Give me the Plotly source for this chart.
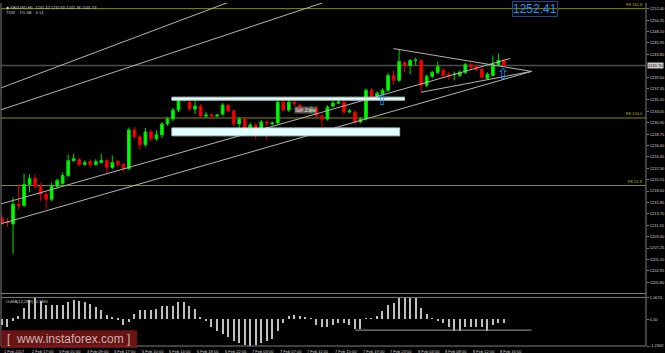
import plotly.graph_objects as go

# ---------------- data ----------------
bars = list(range(92))
open_ = [1212.90, 1212.20, 1211.78, 1215.50, 1215.30, 1219.26, 1220.38, 1218.89, 1217.39, 1216.45,
         1218.89, 1219.45, 1220.94, 1223.75, 1223.93, 1223.00, 1223.56, 1223.00, 1223.37, 1223.75,
         1222.44, 1223.56, 1223.00, 1222.25, 1229.54, 1228.24, 1226.74, 1229.17, 1227.86, 1228.61,
         1230.67, 1231.60, 1233.28, 1235.15, 1234.78, 1233.47, 1234.03, 1232.16, 1232.35, 1232.16,
         1232.54, 1234.22, 1233.10, 1230.67, 1231.60, 1229.17, 1230.48, 1229.36, 1231.04, 1230.67,
         1230.85, 1234.78, 1233.28, 1234.78, 1234.22, 1233.30, 1232.91, 1233.66, 1232.16, 1231.60,
         1234.03, 1234.59, 1234.78, 1232.91, 1232.91, 1231.04, 1231.60, 1237.02, 1235.90, 1236.28,
         1237.02, 1239.83, 1238.89, 1242.26, 1241.70, 1242.63, 1242.63, 1237.96, 1239.64, 1240.39,
         1240.76, 1240.02, 1240.02, 1239.83, 1240.39, 1241.89, 1241.51, 1240.95, 1239.27, 1239.83,
         1241.89, 1242.63]
high = [1213.46, 1212.90, 1216.83, 1219.26, 1221.32, 1221.20, 1221.10, 1219.60, 1217.80, 1219.60,
        1220.40, 1221.50, 1224.87, 1225.06, 1224.30, 1223.80, 1223.90, 1224.00, 1225.06, 1224.10,
        1224.70, 1223.90, 1223.30, 1230.00, 1230.10, 1228.60, 1229.90, 1229.70, 1229.50, 1231.00,
        1232.00, 1233.70, 1235.50, 1235.80, 1235.20, 1235.72, 1234.40, 1232.90, 1232.70, 1232.60,
        1234.60, 1234.50, 1233.40, 1232.00, 1231.90, 1230.90, 1230.80, 1231.40, 1231.30, 1231.10,
        1235.10, 1235.20, 1235.20, 1235.72, 1234.50, 1233.70, 1234.00, 1234.00, 1232.50, 1234.20,
        1235.00, 1235.34, 1235.10, 1233.50, 1233.20, 1231.90, 1237.40, 1237.40, 1236.80, 1237.40,
        1240.20, 1240.80, 1244.69, 1242.50, 1242.90, 1243.20, 1242.90, 1240.00, 1240.70, 1242.45,
        1241.20, 1240.50, 1240.58, 1240.80, 1242.20, 1242.20, 1241.80, 1241.20, 1240.40, 1243.57,
        1243.94, 1243.00]
low = [1211.59, 1211.20, 1206.17, 1214.58, 1215.00, 1217.76, 1218.50, 1216.08, 1214.58, 1216.10,
       1218.50, 1219.20, 1220.60, 1223.50, 1222.70, 1222.80, 1222.40, 1222.80, 1223.20, 1221.30,
       1222.20, 1222.60, 1221.70, 1222.00, 1227.90, 1225.80, 1226.40, 1227.30, 1227.50, 1228.00,
       1230.30, 1231.20, 1232.90, 1234.90, 1233.20, 1232.54, 1231.90, 1231.80, 1231.60, 1231.90,
       1232.20, 1232.80, 1230.30, 1228.80, 1228.90, 1228.90, 1227.86, 1229.00, 1227.67, 1230.40,
       1230.50, 1233.00, 1232.90, 1234.10, 1232.60, 1232.80, 1232.60, 1231.90, 1230.11, 1231.30,
       1233.80, 1234.40, 1232.60, 1232.70, 1230.70, 1230.80, 1231.30, 1235.40, 1235.60, 1236.00,
       1236.70, 1237.96, 1238.60, 1240.39, 1240.02, 1241.70, 1236.65, 1237.60, 1239.30, 1240.10,
       1239.50, 1239.00, 1238.89, 1239.50, 1240.10, 1241.00, 1240.60, 1239.20, 1239.00, 1239.60,
       1241.60, 1241.40]
close = [1211.97, 1212.10, 1215.52, 1215.20, 1219.26, 1220.38, 1218.89, 1217.39, 1216.45, 1219.07,
         1220.01, 1220.94, 1223.75, 1224.12, 1223.00, 1223.37, 1223.00, 1223.56, 1223.75, 1222.44,
         1223.37, 1223.00, 1222.25, 1229.54, 1228.24, 1226.74, 1229.17, 1227.86, 1228.61, 1230.67,
         1231.60, 1233.28, 1235.15, 1235.34, 1233.47, 1234.03, 1232.16, 1232.35, 1232.16, 1232.35,
         1234.22, 1233.10, 1230.67, 1231.60, 1229.17, 1230.48, 1229.36, 1231.04, 1230.85, 1230.85,
         1234.78, 1233.28, 1234.78, 1234.41, 1232.91, 1233.20, 1233.66, 1232.16, 1231.60, 1233.85,
         1234.59, 1234.78, 1232.91, 1233.10, 1231.04, 1231.60, 1237.02, 1235.72, 1236.46, 1237.02,
         1239.83, 1238.89, 1242.45, 1241.70, 1242.63, 1242.70, 1237.96, 1239.64, 1240.39, 1241.51,
         1239.83, 1239.83, 1240.05, 1240.39, 1241.89, 1241.32, 1240.95, 1239.46, 1240.02, 1241.89,
         1242.63, 1241.70]
osma = [-0.30, -0.39, -0.09, 0.13, 0.51, 0.86, 0.95, 0.83, 0.66, 0.66,
        0.66, 0.64, 0.79, 0.88, 0.83, 0.79, 0.69, 0.54, 0.39, 0.18,
        0.06, -0.05, -0.30, -0.15, 0.22, 0.42, 0.39, 0.42, 0.44, 0.57,
        0.61, 0.61, 0.76, 0.79, 0.61, 0.44, 0.10, -0.10, -0.39, -0.57,
        -0.71, -0.84, -1.02, -1.11, -1.20, -1.2309, -1.20, -1.11, -1.02, -0.93,
        -0.57, -0.21, 0.11, 0.19, 0.14, 0.06, 0.03, -0.30, -0.39, -0.36,
        -0.30, -0.18, -0.21, -0.30, -0.48, -0.48, 0.02, 0.03, 0.14, 0.34,
        0.65, 0.73, 0.97, 0.99, 1.0074, 0.96, 0.50, 0.23, 0.03, -0.12,
        -0.21, -0.39, -0.54, -0.54, -0.36, -0.36, -0.39, -0.39, -0.54, -0.30,
        -0.21, -0.18]

price_ticks = [1252.40, 1250.25, 1248.10, 1245.95, 1243.80, 1239.50, 1237.35, 1235.20,
               1233.05, 1230.90, 1228.75, 1226.60, 1224.45, 1222.30, 1220.15, 1218.00, 1215.85,
               1213.70, 1211.55, 1209.40, 1207.25, 1205.10, 1202.95, 1200.80, 1198.65]
price_tick_text = ["1252.40", "1250.25", "1248.10", "1245.95", "1243.80", "1239.50", "1237.35",
                   "1235.20", "1233.05", "1230.90", "1228.75", "1226.60", "1224.45", "1222.30",
                   "1220.15", "1218.00", "1215.85", "1213.70", "1211.55", "1209.40", "1207.25",
                   "1205.10", "1202.95", "1200.80", "1198.65"]
osma_ticks = [1.0074, 0.0, -1.2309]
osma_tick_text = ["1.0074", "0.00", "-1.2309"]

date_tick_bars = [0, 5, 10, 15, 20, 25, 30, 35, 40, 45, 50, 55, 60, 65, 70, 75, 80, 85, 90]
date_tick_labels = ["1 Feb 2017", "2 Feb 17:00", "3 Feb 01:00", "3 Feb 09:00", "3 Feb 17:00",
                    "6 Feb 10:00", "6 Feb 14:00", "6 Feb 18:00", "6 Feb 22:00", "7 Feb 03:00",
                    "7 Feb 07:00", "7 Feb 11:00", "7 Feb 15:00", "7 Feb 19:00", "7 Feb 23:00",
                    "8 Feb 04:00", "8 Feb 08:00", "8 Feb 12:00", "8 Feb 16:00"]

fe_levels = [1252.41, 1231.79, 1219.05]
fe_labels = ["FE 161.8", "FE 100.0", "FE 61.8"]
current_price = 1241.70

# analyst drawings (bar index, price)
trend_x0 = [-0.36, -0.36, 71.0, 76.0, -0.36, -0.36]
trend_y0 = [1215.52, 1211.78, 1244.88, 1236.65, 1237.40, 1233.28]
trend_x1 = [92.1, 96.0, 96.0, 96.0, 60.0, 70.0]
trend_y1 = [1243.01, 1240.58, 1240.58, 1240.58, 1261.03, 1257.62]

zone_x0 = [30.8, 30.8]
zone_x1 = [73.0, 72.1]
zone_y0 = [1235.15, 1228.42]
zone_y1 = [1235.72, 1229.92]

arrow_x = [69.0, 91.0]
arrow_y = [1235.10, 1240.10]

osma_level = -0.50
osma_level_x = [64, 96]

# ---------------- figure ----------------
fig = go.Figure()

fig.add_trace(go.Candlestick(
    x=bars, open=open_, high=high, low=low, close=close,
    increasing=dict(line=dict(color="#00dd00", width=1), fillcolor="#00ff00"),
    decreasing=dict(line=dict(color="#dd0000", width=1), fillcolor="#ff0000"),
    whiskerwidth=0, showlegend=False, hoverinfo="skip", xaxis="x", yaxis="y"))

for x0, y0, x1, y1 in zip(trend_x0, trend_y0, trend_x1, trend_y1):
    fig.add_trace(go.Scatter(x=[x0, x1], y=[y0, y1], mode="lines",
                             line=dict(color="#b4b4b4", width=1),
                             showlegend=False, hoverinfo="skip", xaxis="x", yaxis="y"))

fig.add_trace(go.Bar(x=bars, y=osma, width=0.22, marker=dict(color="#c0c0c0", line=dict(width=0)),
                     showlegend=False, hoverinfo="skip", xaxis="x2", yaxis="y2"))

fig.add_trace(go.Scatter(x=osma_level_x, y=[osma_level, osma_level], mode="lines",
                         line=dict(color="#a0a0a0", width=1),
                         showlegend=False, hoverinfo="skip", xaxis="x2", yaxis="y2"))

xr = [-0.18, 116.76]
main_dom = [0.15318, 1.0]
sub_dom = [0.0, 0.14162]

shapes = []
for lvl in fe_levels:
    shapes.append(dict(type="line", xref="paper", yref="y", x0=0, x1=1, y0=lvl, y1=lvl,
                       line=dict(color="#8c8c00", width=1), layer="below"))
shapes.append(dict(type="line", xref="paper", yref="y", x0=0, x1=1, y0=current_price,
                   y1=current_price, line=dict(color="#4d4d4d", width=1.5), layer="below"))
for x0, x1, y0, y1 in zip(zone_x0, zone_x1, zone_y0, zone_y1):
    shapes.append(dict(type="rect", xref="x", yref="y", x0=x0, x1=x1, y0=y0, y1=y1,
                       fillcolor="#e0ffff", line=dict(color="#b8c8c8", width=1), layer="above"))
frame = "#7f7f7f"
shapes += [
    dict(type="line", xref="paper", yref="paper", x0=1, x1=1, y0=0, y1=1, line=dict(color=frame, width=1)),
    dict(type="line", xref="paper", yref="paper", x0=0, x1=0, y0=0, y1=1, line=dict(color=frame, width=1)),
    dict(type="line", xref="paper", yref="paper", x0=0, x1=1, y0=main_dom[0], y1=main_dom[0], line=dict(color=frame, width=1)),
    dict(type="line", xref="paper", yref="paper", x0=0, x1=1, y0=sub_dom[1], y1=sub_dom[1], line=dict(color=frame, width=1)),
    dict(type="line", xref="paper", yref="paper", x0=0, x1=1, y0=0, y1=0, line=dict(color=frame, width=1)),
]
shapes.append(dict(type="rect", xref="paper", yref="paper", x0=0, x1=0.211, y0=-0.006, y1=0.046,
                   fillcolor="rgba(125,22,22,0.85)", line=dict(width=0), layer="above"))

small = dict(family="Liberation Sans", size=4, color="#cfcfcf")
ann = []
for b, t in zip(date_tick_bars, date_tick_labels):
    ann.append(dict(x=b, xref="x2", y=0, yref="paper", yanchor="top", xanchor="left",
                    text=t, showarrow=False, font=small, yshift=-1))
for lvl, t in zip(fe_levels, fe_labels):
    ann.append(dict(x=0.998, xref="paper", y=lvl, yref="y", xanchor="right", yanchor="bottom",
                    text=t, showarrow=False, font=dict(family="Liberation Sans", size=4, color="#b4b400")))
ann.append(dict(x=1, xref="paper", y=current_price, yref="y", xanchor="left", yanchor="middle",
                text="1241.70", showarrow=False, xshift=1, borderpad=0,
                font=dict(family="Liberation Sans", size=4, color="#000000"), bgcolor="#cccccc"))
ann.append(dict(x=0.004, xref="paper", y=1, yref="paper", xanchor="left", yanchor="top",
                text="◆ XAUUSD,H1  1241.42 1242.65 1241.36 1241.73", showarrow=False, font=small))
ann.append(dict(x=0.004, xref="paper", y=0.986, yref="paper", xanchor="left", yanchor="top",
                text="TDSI    1% 6B    0.14", showarrow=False, font=small))
ann.append(dict(x=0.004, xref="paper", y=sub_dom[1], yref="paper", xanchor="left", yanchor="top",
                text="OsMA(12,26,9) -0.1490", showarrow=False, font=small))
ann.append(dict(x=96.6, xref="x", y=1252.36, yref="y", xanchor="center", yanchor="middle",
                text="1252.41", showarrow=False, borderpad=0, bordercolor="#1a4a8a", borderwidth=1,
                font=dict(family="Liberation Sans", size=12, color="#1e90ff")))
ann.append(dict(x=55, xref="x", y=1233.28, yref="y", text="Sell Zone", showarrow=False,
                font=dict(family="Liberation Sans", size=5, color="#e0e0e0"),
                bgcolor="rgba(120,120,120,0.7)", borderpad=0))
for ax_, ay_ in zip(arrow_x, arrow_y):
    ann.append(dict(x=ax_, xref="x", y=ay_, yref="y", text="⇧", showarrow=False,
                    font=dict(family="DejaVu Sans", size=15, color="#1e90ff")))
ann.append(dict(x=0.006, xref="paper", y=0.02, yref="paper", xanchor="left", yanchor="middle",
                text="[  www.instaforex.com ]", showarrow=False,
                font=dict(family="Liberation Sans", size=12, color="rgba(215,215,215,0.85)")))

axis_common = dict(showgrid=False, zeroline=False, showline=False)
fig.update_layout(
    width=665, height=353,
    margin=dict(l=1, r=15, t=0, b=7),
    paper_bgcolor="#000000", plot_bgcolor="#000000",
    showlegend=False, bargap=0,
    xaxis=dict(domain=[0, 1], range=xr, anchor="y", showticklabels=False, ticks="",
               rangeslider=dict(visible=False), **axis_common),
    xaxis2=dict(domain=[0, 1], range=xr, anchor="y2", showticklabels=False, ticks="", **axis_common),
    yaxis=dict(domain=main_dom, range=[1198.69, 1253.48], side="right", anchor="x",
               tickvals=price_ticks, ticktext=price_tick_text, ticks="outside", ticklen=2,
               tickcolor="#808080", tickfont=small, **axis_common),
    yaxis2=dict(domain=sub_dom, range=[-1.2309, 1.0074], side="right", anchor="x2",
                tickvals=osma_ticks, ticktext=osma_tick_text, ticks="outside", ticklen=2,
                tickcolor="#808080", tickfont=small, **axis_common),
    shapes=shapes, annotations=ann,
)

fig.write_html("out.html")
